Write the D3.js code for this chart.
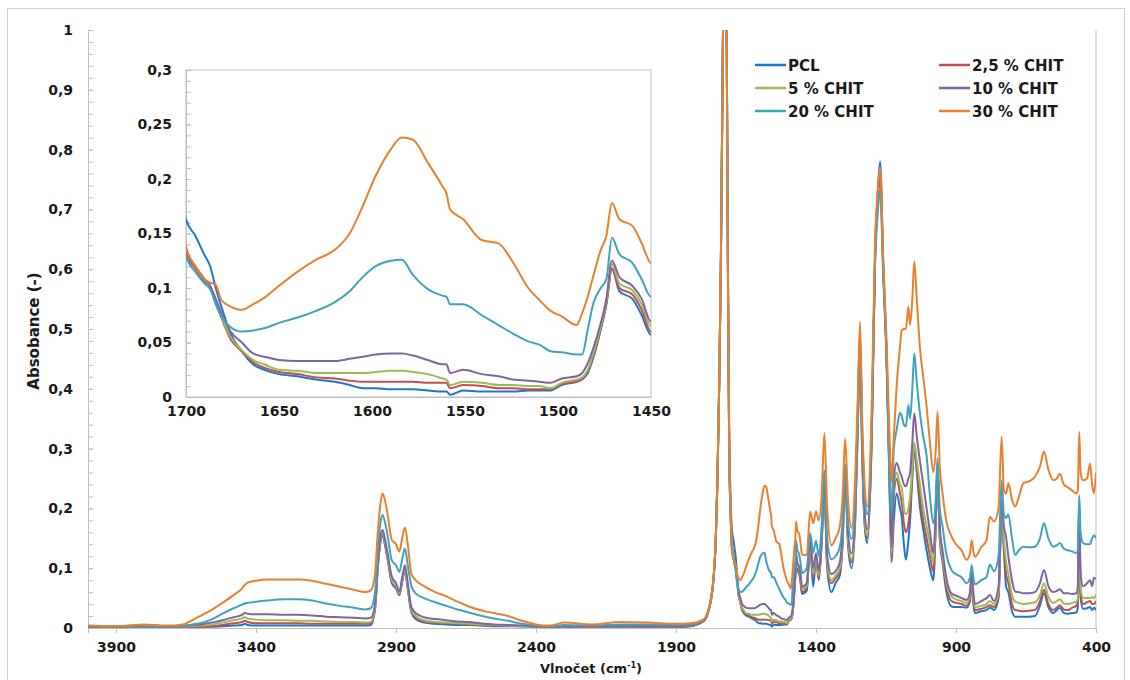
<!DOCTYPE html>
<html><head><meta charset="utf-8">
<script src="https://cdn.jsdelivr.net/npm/d3@7"></script>
<style>
body{margin:0;background:#fff}
text{font-family:"DejaVu Sans",sans-serif;font-weight:bold;fill:#1a1a1a}
</style>
</head><body>
<svg id="chart" width="1130" height="680"></svg>
<script>
// ---------------- DATA ----------------
const wavenumber = [
 4000,3900,3800,3720,3660,3640,3600,3560,3520,3480,
 3450,3440,3430,3400,3360,3300,3250,3200,3150,3100,
 3050,3010,2990,
 2975,2965,2955,2948,2940,2930,2915,2900,2888,2878,
 2868,2858,2845,2830,2800,2760,2720,2680,2640,2600,
 2550,2500,2450,2400,
 2350,2300,2200,2100,2000,1900,1850,1800,1785,1775,
 1765,1758,1752,1746,1740,1735,1730,1726,1722,1718,
 1714,1710,1705,
 1700,1695,1690,1687,1684,1681,1676,1670,1664,1658,
 1650,1640,1630,1620,1612,1605,1598,1590,1584,1578,
 1570,1562,1560,1558,1551,1541,1532,1524,1516,1510,
 1504,1498,1490,1487,1484,1481,1477,1474,1471,1467,
 1460,1455,1450,
 1433,1421,1410,1400,1390,1380,1370,1360,1345,1330,
 1315,1305,1296,1285,1273,1260,1250,1243,1235,1225,
 1217,1201,1189,1180,1171,1160,1148,1138,1130,1122,
 1112,1100,1094,1086,1079,1070,1064,1056,1049,1040,
 1029,1017,1005,993,981,972,966,958,948,935,
 916,900,880,862,850,844,838,832,810,791,
 779,764,748,737,729,721,713,700,689,675,
 660,640,618,600,586,570,553,540,529,515,
 500,485,470,465,460,455,446,432,421,414,
 407,400
];

const PCL = [
 .001,.001,.001,.001,.001,.001,.002,.002,.003,.004,
 .005,.007,.005,.004,.004,.004,.004,.004,.004,.004,
 .004,.004,.005,
 .030,.100,.145,.155,.140,.115,.075,.066,.055,.077,
 .097,.066,.026,.015,.009,.007,.006,.005,.005,.004,
 .003,.003,.003,.002,
 .002,.002,.002,.002,.002,.002,.003,.012,.027,.047,
 .087,.147,.247,.400,.600,.850,1.10,1.25,1.20,.920,
 .580,.330,.220,
 .163,.148,.130,.120,.100,.083,.058,.042,.030,.025,
 .021,.019,.016,.014,.011,.008,.008,.007,.007,.007,
 .006,.005,.005,.002,.006,.005,.005,.005,.006,.006,
 .006,.011,.014,.016,.022,.036,.062,.085,.118,.097,
 .090,.075,.057,
 .062,.136,.069,.115,.080,.140,.235,.100,.060,.075,
 .088,.140,.255,.135,.100,.180,.350,.480,.290,.165,
 .142,.315,.625,.725,.780,.610,.450,.250,.110,.180,
 .225,.200,.186,.140,.114,.147,.180,.250,.300,.260,
 .203,.165,.130,.100,.080,.175,.265,.150,.110,.062,
 .036,.035,.035,.034,.045,.080,.040,.025,.028,.030,
 .034,.030,.050,.192,.130,.069,.060,.028,.019,.019,
 .019,.019,.020,.038,.058,.035,.025,.030,.034,.025,
 .024,.025,.026,.035,.200,.050,.032,.033,.035,.030,
 .034,.030
];

const CHIT_2_5 = [
 .002,.001,.002,.001,.002,.001,.002,.003,.005,.008,
 .010,.012,.010,.008,.008,.008,.008,.007,.007,.007,
 .007,.007,.008,
 .033,.103,.148,.157,.143,.118,.078,.068,.056,.078,
 .098,.068,.028,.018,.011,.009,.008,.007,.006,.005,
 .004,.004,.003,.003,
 .002,.002,.002,.003,.002,.002,.003,.012,.027,.047,
 .087,.147,.247,.400,.600,.850,1.10,1.25,1.20,.900,
 .550,.300,.190,
 .132,.118,.106,.099,.087,.073,.053,.042,.032,.027,
 .023,.021,.018,.017,.015,.014,.014,.014,.014,.014,
 .013,.013,.013,.008,.011,.010,.008,.008,.007,.007,
 .007,.012,.014,.017,.024,.038,.063,.085,.118,.100,
 .094,.080,.060,
 .068,.138,.085,.118,.084,.143,.238,.105,.075,.083,
 .095,.145,.258,.140,.110,.185,.355,.483,.295,.170,
 .150,.320,.620,.720,.765,.605,.455,.255,.115,.220,
 .250,.225,.210,.175,.160,.175,.200,.260,.305,.270,
 .220,.180,.150,.120,.094,.180,.268,.155,.115,.070,
 .045,.042,.040,.037,.050,.085,.045,.030,.032,.035,
 .038,.035,.055,.200,.140,.090,.075,.040,.030,.029,
 .028,.029,.030,.045,.064,.040,.030,.034,.038,.031,
 .030,.034,.037,.045,.205,.060,.040,.043,.045,.040,
 .040,.045
];

const CHIT_5 = [
 .002,.002,.002,.002,.002,.003,.004,.006,.009,.013,
 .016,.018,.016,.014,.013,.013,.012,.012,.011,.010,
 .010,.009,.010,
 .035,.105,.150,.159,.145,.120,.080,.070,.058,.080,
 .100,.070,.030,.020,.013,.010,.009,.008,.007,.006,
 .005,.004,.003,.003,
 .002,.003,.003,.003,.003,.003,.004,.013,.028,.048,
 .088,.148,.248,.400,.600,.850,1.10,1.25,1.20,.900,
 .550,.300,.190,
 .135,.120,.108,.100,.088,.074,.055,.043,.034,.030,
 .025,.024,.022,.022,.022,.022,.023,.024,.024,.023,
 .021,.017,.016,.011,.014,.013,.011,.011,.010,.010,
 .008,.013,.016,.018,.025,.040,.065,.088,.122,.104,
 .098,.085,.065,
 .070,.140,.090,.120,.088,.145,.240,.110,.080,.088,
 .100,.150,.260,.145,.115,.190,.360,.485,.300,.175,
 .155,.325,.620,.715,.760,.605,.460,.260,.125,.235,
 .260,.240,.235,.200,.190,.200,.220,.270,.310,.280,
 .240,.200,.170,.140,.110,.190,.270,.160,.120,.078,
 .053,.048,.045,.042,.055,.090,.052,.035,.037,.040,
 .045,.040,.060,.205,.150,.110,.090,.055,.044,.042,
 .040,.041,.043,.055,.075,.052,.042,.045,.048,.041,
 .040,.042,.044,.050,.210,.070,.050,.050,.050,.052,
 .050,.056
];

const CHIT_10 = [
 .002,.002,.003,.002,.003,.004,.006,.009,.013,.018,
 .022,.025,.024,.023,.023,.022,.022,.021,.019,.018,
 .017,.016,.017,
 .040,.110,.155,.164,.150,.125,.086,.075,.061,.085,
 .105,.075,.035,.025,.018,.015,.013,.011,.010,.008,
 .006,.005,.004,.003,
 .002,.003,.003,.003,.003,.003,.004,.013,.028,.048,
 .088,.148,.248,.400,.600,.850,1.10,1.25,1.20,.900,
 .550,.300,.190,
 .135,.120,.108,.102,.090,.077,.060,.050,.040,.037,
 .034,.033,.033,.033,.035,.037,.039,.040,.040,.038,
 .034,.030,.030,.022,.025,.021,.019,.016,.015,.014,
 .013,.017,.019,.022,.031,.045,.068,.090,.125,.110,
 .102,.090,.069,
 .075,.148,.100,.125,.095,.150,.245,.120,.090,.095,
 .110,.160,.265,.155,.125,.200,.370,.490,.310,.185,
 .165,.330,.620,.710,.755,.600,.460,.270,.135,.250,
 .276,.260,.253,.240,.237,.250,.260,.310,.359,.320,
 .280,.240,.200,.160,.125,.200,.275,.170,.130,.085,
 .058,.054,.050,.047,.060,.100,.060,.040,.045,.050,
 .055,.045,.070,.214,.170,.152,.120,.080,.061,.060,
 .058,.058,.060,.075,.097,.070,.060,.062,.065,.058,
 .058,.057,.058,.070,.215,.090,.070,.075,.080,.070,
 .084,.082
];

const CHIT_20 = [
 .003,.003,.004,.003,.004,.005,.008,.014,.024,.033,
 .039,.041,.042,.044,.046,.048,.048,.046,.041,.037,
 .034,.031,.033,
 .060,.130,.178,.189,.178,.155,.113,.105,.094,.115,
 .133,.105,.070,.058,.050,.043,.037,.031,.026,.021,
 .016,.012,.007,.004,
 .003,.005,.004,.006,.006,.005,.006,.014,.029,.049,
 .089,.149,.249,.400,.600,.850,1.10,1.25,1.20,.900,
 .550,.300,.190,
 .129,.115,.104,.099,.085,.074,.064,.060,.061,.063,
 .068,.073,.079,.087,.097,.110,.120,.125,.126,.112,
 .099,.093,.092,.085,.085,.075,.066,.058,.051,.048,
 .042,.041,.039,.039,.062,.086,.100,.108,.146,.131,
 .123,.108,.092,
 .100,.159,.126,.146,.120,.170,.264,.150,.115,.120,
 .135,.180,.275,.175,.149,.220,.380,.495,.330,.210,
 .190,.340,.610,.690,.732,.590,.450,.280,.190,.300,
 .331,.360,.355,.340,.337,.373,.350,.400,.459,.410,
 .360,.320,.288,.220,.175,.220,.284,.200,.170,.125,
 .097,.090,.085,.075,.085,.105,.085,.073,.080,.085,
 .106,.095,.120,.247,.190,.184,.190,.150,.122,.130,
 .136,.135,.136,.150,.175,.150,.136,.138,.142,.133,
 .130,.128,.125,.130,.222,.160,.142,.140,.140,.150,
 .155,.150
];

const CHIT_30 = [
 .004,.003,.006,.004,.006,.010,.020,.030,.042,.055,
 .066,.072,.076,.079,.081,.081,.081,.079,.074,.069,
 .064,.060,.063,
 .090,.160,.210,.225,.215,.190,.147,.140,.128,.150,
 .168,.140,.090,.080,.070,.060,.053,.044,.036,.030,
 .025,.020,.012,.006,
 .004,.009,.006,.010,.009,.007,.008,.015,.030,.050,
 .090,.150,.250,.400,.600,.850,1.10,1.25,1.20,.900,
 .550,.300,.200,
 .138,.120,.108,.105,.103,.089,.083,.080,.085,.091,
 .102,.115,.126,.135,.150,.175,.203,.227,.238,.236,
 .215,.193,.187,.172,.163,.144,.141,.123,.100,.089,
 .079,.074,.066,.077,.092,.111,.135,.148,.178,.163,
 .157,.141,.123,
 .122,.195,.175,.195,.180,.220,.326,.200,.138,.150,
 .170,.220,.317,.210,.167,.250,.400,.512,.350,.230,
 .203,.370,.649,.727,.770,.620,.480,.330,.245,.320,
 .404,.470,.498,.500,.500,.537,.507,.550,.613,.550,
 .470,.420,.370,.310,.261,.300,.362,.270,.225,.180,
 .153,.140,.130,.114,.125,.147,.128,.119,.135,.147,
 .186,.178,.200,.320,.230,.225,.242,.215,.203,.220,
 .242,.245,.253,.270,.295,.265,.247,.250,.258,.240,
 .235,.230,.225,.230,.328,.260,.247,.250,.275,.240,
 .225,.260
];

const seriesNames = ["PCL","2,5 % CHIT","5 % CHIT","10 % CHIT","20 % CHIT","30 % CHIT"];
const seriesValues = [PCL, CHIT_2_5, CHIT_5, CHIT_10, CHIT_20, CHIT_30];

const mainXTicks = [3900,3400,2900,2400,1900,1400,900,400];
const mainYTicks = [0,0.1,0.2,0.3,0.4,0.5,0.6,0.7,0.8,0.9,1];
const insetXTicks = [1700,1650,1600,1550,1500,1450];
const insetYTicks = [0,0.05,0.1,0.15,0.2,0.25,0.3];

// ---------------- STYLE ----------------
const colors = ["#1f77c9","#c0504d","#9bbb59","#8064a2","#3fa3bd","#e8812f"];
const gridGray = "#bfbfbf";
const comma = d => String(+d.toFixed(3)).replace(".", ",");

const svg = d3.select("#chart");

// outer border
svg.append("rect").attr("x",7.5).attr("y",8.5).attr("width",1117).attr("height",675)
  .attr("fill","#fff").attr("stroke","#d0d0d0");

// main scales
const x = d3.scaleLinear().domain([4000,400]).range([88,1096]);
const y = d3.scaleLinear().domain([0,1]).range([628,30]);

const defs = svg.append("defs");
defs.append("clipPath").attr("id","clipMain").append("rect")
  .attr("x",88).attr("y",30).attr("width",1008).attr("height",598);

const series = seriesValues.map((vals,i)=>({
  name: seriesNames[i], color: colors[i],
  points: wavenumber.map((w,j)=>({w, a: vals[j]})).filter(p=>p.a!==undefined)
}));

// axes main
const gx = svg.append("g").attr("transform","translate(0,628)")
  .call(d3.axisBottom(x).tickValues(mainXTicks).tickFormat(d=>d).tickSize(5).tickPadding(9));
const gyMinor = svg.append("g").attr("transform","translate(88,0)")
  .call(d3.axisLeft(y).tickValues(d3.range(0,1.0001,0.02)).tickFormat("").tickSize(-5));
const gy = svg.append("g").attr("transform","translate(88,0)")
  .call(d3.axisLeft(y).tickValues(mainYTicks).tickFormat(comma).tickSize(-5).tickPadding(15));
[gx,gy,gyMinor].forEach(g=>{
  g.selectAll("path,line").attr("stroke",gridGray);
  g.selectAll("text").attr("font-size",14).attr("font-family","DejaVu Sans").attr("font-weight","bold").attr("fill","#1a1a1a");
});
// right axis line
svg.append("line").attr("x1",1096).attr("x2",1096).attr("y1",30).attr("y2",628).attr("stroke",gridGray);

// main lines
const lineMain = d3.line().x(d=>x(d.w)).y(d=>y(d.a)).curve(d3.curveMonotoneX);
const gMain = svg.append("g").attr("clip-path","url(#clipMain)");
series.forEach(s=>{
  gMain.append("path").datum(s.points).attr("d",lineMain)
    .attr("fill","none").attr("stroke",s.color).attr("stroke-width",2).attr("stroke-linejoin","round");
});

// axis titles
svg.append("text").attr("transform","translate(39,331) rotate(-90)").attr("text-anchor","middle")
  .attr("font-size",15).text("Absobance (-)");
const xt = svg.append("text").attr("x",591).attr("y",673).attr("text-anchor","middle").attr("font-size",13);
xt.append("tspan").text("Vlnočet (cm");
xt.append("tspan").attr("font-size",8).attr("dy",-5).text("-1");
xt.append("tspan").attr("dy",5).text(")");

// ---------------- INSET ----------------
const xi = d3.scaleLinear().domain([1700,1450]).range([186,651]);
const yi = d3.scaleLinear().domain([0,0.3]).range([397,70]);
svg.append("rect").attr("x",186).attr("y",70).attr("width",465).attr("height",327)
  .attr("fill","#fff").attr("stroke",gridGray);
defs.append("clipPath").attr("id","clipInset").append("rect")
  .attr("x",186).attr("y",70).attr("width",465).attr("height",327);

const gxi = svg.append("g").attr("transform","translate(0,397)")
  .call(d3.axisBottom(xi).tickValues(insetXTicks).tickFormat(d=>d).tickSize(0).tickPadding(9));
const gyiMinor = svg.append("g").attr("transform","translate(186,0)")
  .call(d3.axisLeft(yi).tickValues(d3.range(0,0.3001,0.01)).tickFormat("").tickSize(-5));
const gyi = svg.append("g").attr("transform","translate(186,0)")
  .call(d3.axisLeft(yi).tickValues(insetYTicks).tickFormat(comma).tickSize(-5).tickPadding(14));
[gxi,gyi,gyiMinor].forEach(g=>{
  g.selectAll("path,line").attr("stroke",gridGray);
  g.selectAll("text").attr("font-size",14).attr("font-family","DejaVu Sans").attr("font-weight","bold").attr("fill","#1a1a1a");
});

const lineInset = d3.line().x(d=>xi(d.w)).y(d=>yi(d.a)).curve(d3.curveMonotoneX);
const gIn = svg.append("g").attr("clip-path","url(#clipInset)");
series.forEach(s=>{
  gIn.append("path").datum(s.points.filter(p=>p.w<=1705 && p.w>=1433)).attr("d",lineInset)
    .attr("fill","none").attr("stroke",s.color).attr("stroke-width",2).attr("stroke-linejoin","round");
});

// ---------------- LEGEND ----------------
const legendPos = [[755,65],[939,65],[755,88],[939,88],[755,111],[939,111]];
series.forEach((s,i)=>{
  const [lx,ly] = legendPos[i];
  svg.append("line").attr("x1",lx).attr("x2",lx+31).attr("y1",ly).attr("y2",ly)
    .attr("stroke",s.color).attr("stroke-width",2.5);
  svg.append("text").attr("x",lx+33).attr("y",ly+5.5).attr("font-size",15).text(s.name);
});
</script>
</body></html>
